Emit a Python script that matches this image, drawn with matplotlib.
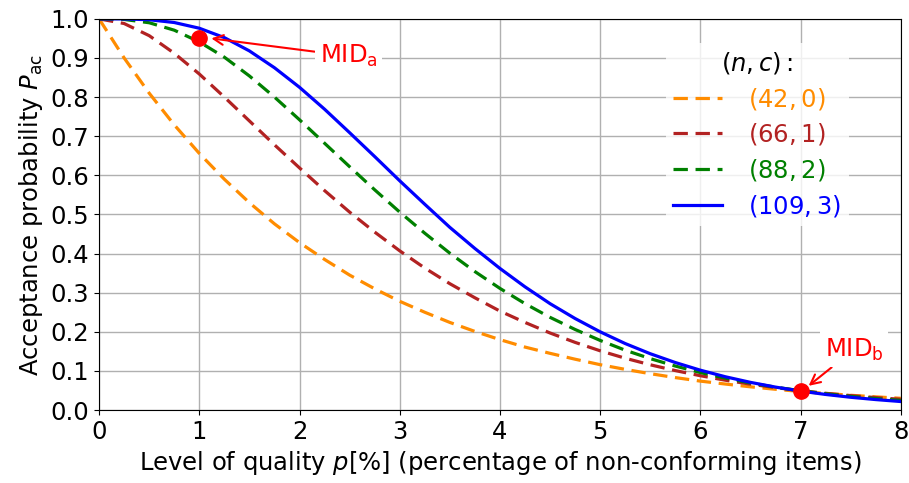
import numpy as np
import matplotlib
matplotlib.use("Agg")
import matplotlib.pyplot as plt

# level of quality p in percent
p = [0.0, 0.25, 0.5, 0.75, 1.0, 1.25, 1.5, 1.75, 2.0, 2.25, 2.5, 2.75, 3.0, 3.25, 3.5, 3.75,
     4.0, 4.25, 4.5, 4.75, 5.0, 5.25, 5.5, 5.75, 6.0, 6.25, 6.5, 6.75, 7.0, 7.25, 7.5, 7.75, 8.0]

# acceptance probabilities
pac_42_0 = [1.0, 0.900, 0.810, 0.729, 0.656, 0.590, 0.530, 0.476, 0.428, 0.385, 0.345, 0.310,
            0.278, 0.250, 0.224, 0.201, 0.180, 0.161, 0.145, 0.130, 0.116, 0.104, 0.093,
            0.083, 0.074, 0.0665, 0.0594, 0.0531, 0.0475, 0.0424, 0.0378, 0.0338, 0.0301]
pac_66_1 = [1.0, 0.988, 0.957, 0.912, 0.859, 0.800, 0.739, 0.678, 0.619, 0.561, 0.506, 0.455,
            0.407, 0.363, 0.323, 0.287, 0.253, 0.224, 0.197, 0.173, 0.1515, 0.1325, 0.1157,
            0.1009, 0.0878, 0.0763, 0.0662, 0.0574, 0.0496, 0.0429, 0.0370, 0.0319, 0.0275]
pac_88_2 = [1.0, 0.9985, 0.990, 0.971, 0.941, 0.902, 0.854, 0.800, 0.742, 0.682, 0.622, 0.563,
            0.506, 0.452, 0.401, 0.354, 0.311, 0.272, 0.237, 0.206, 0.178, 0.153, 0.1315,
            0.1125, 0.0959, 0.0816, 0.0692, 0.0585, 0.0494, 0.0416, 0.0349, 0.0293, 0.0245]
pac_109_3 = [1.0, 0.9998, 0.9977, 0.9906, 0.976, 0.952, 0.918, 0.875, 0.825, 0.769, 0.709, 0.648,
             0.586, 0.526, 0.467, 0.413, 0.362, 0.315, 0.272, 0.234, 0.200, 0.170, 0.144,
             0.1215, 0.1019, 0.0851, 0.0708, 0.0587, 0.0485, 0.0399, 0.0327, 0.0268, 0.0218]

labels = ["$(42,0)$", "$(66,1)$", "$(88,2)$", "$(109,3)$"]
colors = ["darkorange", "firebrick", "green", "blue"]
styles = ["--", "--", "--", "-"]

# MID points
mid_x = [1, 7]
mid_y = [0.95, 0.05]

plt.rcParams["font.size"] = 17.5
plt.rcParams["mathtext.default"] = "regular"
fig, ax = plt.subplots(figsize=(9.09, 4.83), dpi=100)
fig.subplots_adjust(left=0.109, right=0.991, top=0.961, bottom=0.151)

for ys, lab, col, ls in zip([pac_42_0, pac_66_1, pac_88_2, pac_109_3], labels, colors, styles):
    line, = ax.plot(p, ys, ls, color=col, lw=2.3, label=lab)
    if ls == "--":
        line.set_dashes((4.5, 2.4))

ax.plot(mid_x, mid_y, "o", color="red", ms=11, zorder=5)

ax.annotate("MID$_\\mathrm{a}$", xy=(1.12, 0.95), xytext=(2.2, 0.905),
            color="red", va="center", ha="left",
            bbox=dict(boxstyle="square,pad=0.2", fc="white", ec="none"),
            arrowprops=dict(arrowstyle="->", color="red", lw=1.5, shrinkA=0, shrinkB=0))
ax.annotate("MID$_\\mathrm{b}$", xy=(7.08, 0.062), xytext=(7.24, 0.155),
            color="red", va="center", ha="left",
            bbox=dict(boxstyle="square,pad=0.2", fc="white", ec="none"),
            arrowprops=dict(arrowstyle="->", color="red", lw=1.5, shrinkA=0, shrinkB=0))

ax.set_xlim(0, 8)
ax.set_ylim(0, 1)
ax.set_xticks(range(0, 9))
ax.set_yticks(np.arange(0, 1.01, 0.1))
ax.grid(True, color="#b0b0b0", lw=1)
ax.set_axisbelow(True)
ax.set_xlabel("Level of quality $\\mathit{p}$[%] (percentage of non-conforming items)")
ax.set_ylabel("Acceptance probability $\\mathit{P}_\\mathrm{ac}$")

leg = ax.legend(title="$(\\mathit{n},\\mathit{c}):$", loc="upper right", bbox_to_anchor=(0.95, 0.97),
                frameon=True, framealpha=0.8, edgecolor="none", fancybox=False,
                handlelength=2.0, handletextpad=1.1, labelspacing=0.4, borderpad=0.3)
for txt, col in zip(leg.get_texts(), colors):
    txt.set_color(col)

plt.savefig("out.png", dpi=100)
